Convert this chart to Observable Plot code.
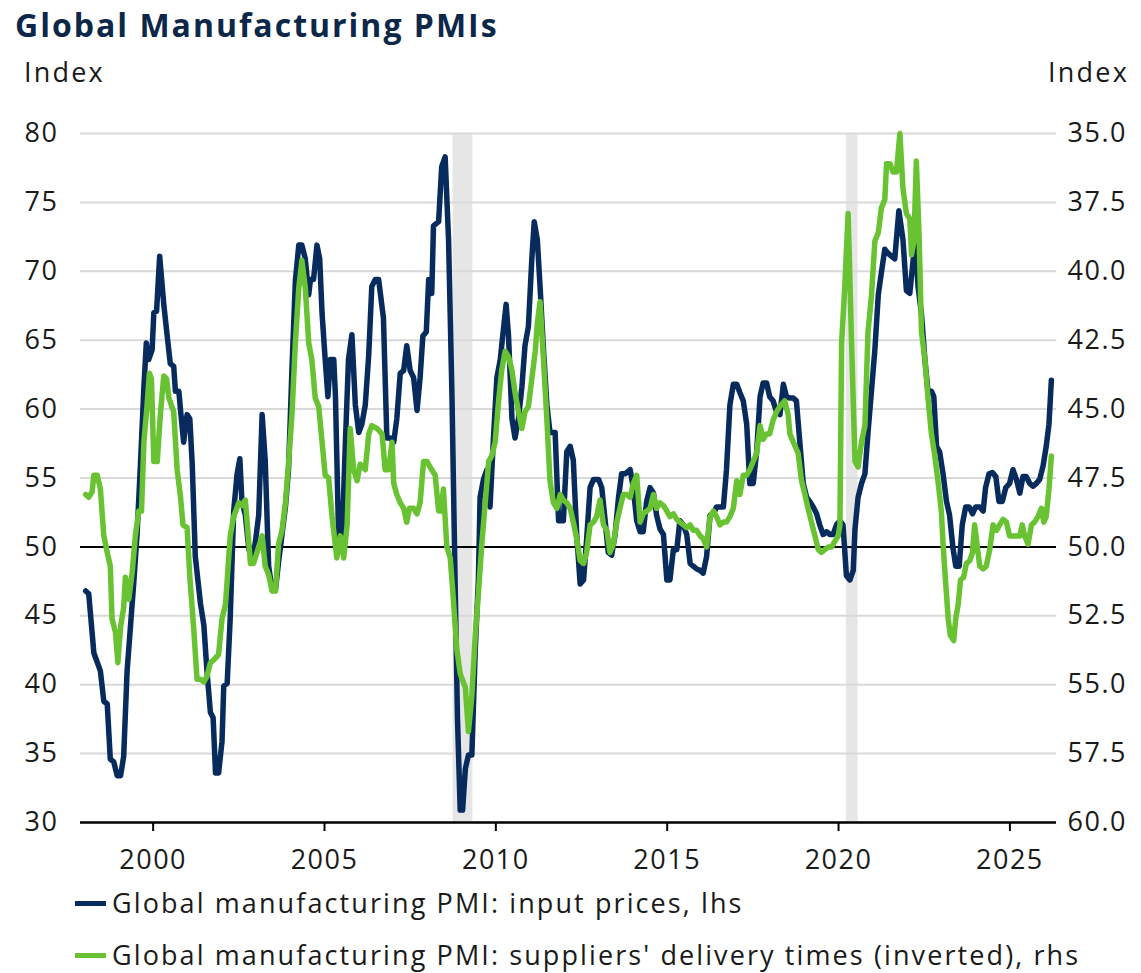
<!DOCTYPE html>
<html>
<head>
<meta charset="utf-8">
<script src="https://cdn.jsdelivr.net/npm/d3@7"></script>
<script src="https://cdn.jsdelivr.net/npm/@observablehq/plot@0.6"></script>
<style>
  html, body { margin: 0; padding: 0; background: #fff; }
  body { width: 1141px; height: 973px; position: relative; overflow: hidden; font-family: "Open Sans", sans-serif; color: #1a1a1a; }
  .abs { position: absolute; white-space: nowrap; line-height: 1; }
  #title { left: 15px; top: 9px; font-size: 32px; font-weight: 700; color: #0c2748; line-height: 32px; letter-spacing: 2px; }
  .unit { font-size: 27px; line-height: 28px; top: 58px; letter-spacing: 2.2px; }
  #unitL { left: 24px; }
  #unitR { right: 12px; }
  #chart { position: absolute; left: 0; top: 0; }
  .leg { left: 75px; font-size: 27px; line-height: 28px; display: flex; align-items: center; letter-spacing: 2.1px; }
  .sw { display: inline-block; width: 31px; height: 5px; margin-right: 6px; }
  #chart svg text { letter-spacing: 1.5px; }
</style>
</head>
<body>
<div id="chart"></div>
<div id="title" class="abs">Global Manufacturing PMIs</div>
<div id="unitL" class="abs unit">Index</div>
<div id="unitR" class="abs unit">Index</div>
<div id="leg1" class="abs leg" style="top:889px"><span class="sw" style="background:#062b5c"></span>Global manufacturing PMI: input prices, lhs</div>
<div id="leg2" class="abs leg" style="top:941px"><span class="sw" style="background:#68c232"></span>Global manufacturing PMI: suppliers' delivery times (inverted), rhs</div>
<script>
// Global manufacturing PMI: input prices (lhs), [decimal year, index]
const inputPrices = [[1998.03,46.8],[1998.12,46.6],[1998.27,42.3],[1998.46,41.0],[1998.56,38.8],[1998.66,38.6],[1998.75,34.6],[1998.85,34.4],[1998.95,33.4],[1999.05,33.4],[1999.14,34.8],[1999.24,41.0],[1999.34,44.3],[1999.44,47.6],[1999.53,50.9],[1999.63,56.0],[1999.73,61.6],[1999.80,64.8],[1999.87,63.6],[1999.97,64.3],[2000.02,67.0],[2000.10,67.1],[2000.19,71.1],[2000.31,67.6],[2000.41,65.3],[2000.50,63.3],[2000.60,63.1],[2000.65,61.3],[2000.75,61.3],[2000.80,59.9],[2000.89,57.6],[2000.99,59.6],[2001.07,59.3],[2001.14,56.0],[2001.23,49.3],[2001.38,45.9],[2001.48,44.3],[2001.57,41.0],[2001.67,38.0],[2001.75,37.6],[2001.82,33.6],[2001.91,33.6],[2002.01,35.9],[2002.06,39.9],[2002.16,40.1],[2002.25,44.9],[2002.35,52.6],[2002.45,55.3],[2002.53,56.4],[2002.59,53.3],[2002.69,52.3],[2002.79,49.9],[2002.89,48.9],[2002.98,50.3],[2003.08,52.3],[2003.18,59.6],[2003.27,56.3],[2003.37,48.6],[2003.47,46.9],[2003.57,46.9],[2003.66,48.9],[2003.76,50.9],[2003.86,52.9],[2003.95,55.6],[2004.05,62.9],[2004.15,69.3],[2004.25,71.9],[2004.34,71.9],[2004.44,70.9],[2004.54,68.3],[2004.59,69.4],[2004.68,69.4],[2004.78,71.9],[2004.86,70.9],[2004.93,66.9],[2005.02,63.6],[2005.10,60.9],[2005.17,63.6],[2005.27,63.6],[2005.32,60.9],[2005.41,50.9],[2005.51,50.3],[2005.61,57.6],[2005.70,63.6],[2005.80,65.4],[2005.90,60.3],[2006.00,58.3],[2006.09,58.9],[2006.19,60.3],[2006.29,63.9],[2006.38,68.9],[2006.48,69.4],[2006.58,69.4],[2006.72,66.6],[2006.82,57.9],[2006.92,57.9],[2007.02,57.6],[2007.11,59.3],[2007.21,62.6],[2007.31,62.8],[2007.40,64.6],[2007.50,62.8],[2007.60,62.3],[2007.70,59.9],[2007.79,62.3],[2007.87,65.3],[2007.97,65.6],[2008.04,69.4],[2008.13,68.4],[2008.18,73.3],[2008.33,73.6],[2008.42,77.6],[2008.52,78.3],[2008.62,72.3],[2008.72,60.9],[2008.81,47.6],[2008.88,37.6],[2008.96,30.9],[2009.03,30.9],[2009.11,33.9],[2009.20,34.9],[2009.30,34.9],[2009.40,42.6],[2009.49,47.6],[2009.54,53.6],[2009.64,54.9],[2009.74,55.6],[2009.83,52.9],[2009.93,57.9],[2010.03,62.3],[2010.13,63.6],[2010.20,65.3],[2010.30,67.6],[2010.37,65.3],[2010.47,59.3],[2010.56,57.9],[2010.66,59.3],[2010.76,61.6],[2010.85,64.6],[2010.95,66.0],[2011.05,70.9],[2011.12,73.6],[2011.21,72.3],[2011.29,68.9],[2011.39,64.3],[2011.49,60.3],[2011.58,58.3],[2011.73,58.3],[2011.83,51.9],[2011.97,51.9],[2012.07,56.9],[2012.17,57.3],[2012.26,56.3],[2012.36,50.9],[2012.46,47.3],[2012.56,47.6],[2012.65,50.6],[2012.75,54.3],[2012.85,54.9],[2013.00,54.9],[2013.09,54.3],[2013.19,51.9],[2013.28,49.6],[2013.38,49.4],[2013.48,50.9],[2013.58,53.6],[2013.67,55.3],[2013.77,55.3],[2013.92,55.6],[2014.01,54.3],[2014.11,51.9],[2014.21,51.1],[2014.30,51.1],[2014.40,53.3],[2014.50,54.3],[2014.60,53.9],[2014.69,52.3],[2014.79,51.3],[2014.89,50.9],[2014.99,47.6],[2015.08,47.6],[2015.18,49.8],[2015.28,49.8],[2015.37,51.9],[2015.47,51.6],[2015.57,50.9],[2015.67,48.8],[2015.76,48.6],[2015.86,48.4],[2015.96,48.3],[2016.05,48.1],[2016.15,49.3],[2016.25,52.3],[2016.35,52.4],[2016.44,52.9],[2016.54,52.9],[2016.64,52.9],[2016.73,55.6],[2016.83,60.3],[2016.93,61.8],[2017.03,61.8],[2017.12,61.2],[2017.22,60.6],[2017.32,58.9],[2017.41,54.6],[2017.51,54.6],[2017.61,56.9],[2017.71,60.9],[2017.80,61.9],[2017.90,61.9],[2017.99,60.9],[2018.09,60.6],[2018.19,59.8],[2018.29,59.6],[2018.39,61.8],[2018.48,60.9],[2018.58,60.8],[2018.68,60.8],[2018.77,60.6],[2018.87,57.6],[2018.97,54.6],[2019.07,53.6],[2019.16,53.3],[2019.26,52.9],[2019.36,52.4],[2019.45,51.6],[2019.55,50.9],[2019.65,51.1],[2019.75,50.9],[2019.84,50.9],[2019.94,51.6],[2020.04,51.9],[2020.13,51.6],[2020.23,47.9],[2020.33,47.6],[2020.43,48.3],[2020.48,51.3],[2020.57,53.6],[2020.67,54.6],[2020.77,55.3],[2020.86,58.3],[2020.96,61.3],[2021.06,64.3],[2021.16,68.3],[2021.25,69.9],[2021.35,71.6],[2021.45,71.3],[2021.54,71.1],[2021.64,70.9],[2021.76,74.4],[2021.88,72.3],[2021.98,68.6],[2022.08,68.4],[2022.18,70.9],[2022.25,71.9],[2022.32,68.9],[2022.42,66.9],[2022.52,63.6],[2022.61,61.3],[2022.71,61.3],[2022.78,60.9],[2022.86,57.3],[2022.95,56.9],[2023.05,55.3],[2023.15,53.3],[2023.24,52.3],[2023.34,49.9],[2023.42,48.6],[2023.52,48.6],[2023.61,51.6],[2023.71,52.9],[2023.81,52.9],[2023.91,52.4],[2024.00,52.9],[2024.12,52.9],[2024.22,52.6],[2024.29,54.3],[2024.39,55.3],[2024.49,55.4],[2024.59,55.1],[2024.68,53.3],[2024.78,53.3],[2024.88,54.3],[2024.99,54.6],[2025.09,55.6],[2025.19,54.9],[2025.29,53.9],[2025.38,55.1],[2025.48,55.1],[2025.58,54.6],[2025.67,54.4],[2025.77,54.6],[2025.87,54.9],[2025.97,55.9],[2026.06,57.3],[2026.14,58.9],[2026.21,62.1]];

// Global manufacturing PMI: suppliers' delivery times (rhs, axis inverted), [decimal year, index]
const deliveryTimes = [[1998.03,48.1],[1998.12,48.2],[1998.22,48.0],[1998.27,47.4],[1998.37,47.4],[1998.46,47.9],[1998.56,49.6],[1998.66,50.2],[1998.75,50.7],[1998.80,52.6],[1998.90,53.1],[1998.97,54.2],[1999.05,52.9],[1999.14,52.2],[1999.19,51.1],[1999.29,51.9],[1999.39,50.9],[1999.48,49.6],[1999.58,48.7],[1999.66,48.7],[1999.73,46.2],[1999.82,44.9],[1999.89,43.7],[1999.95,43.9],[2000.02,46.9],[2000.12,46.9],[2000.21,45.2],[2000.31,43.8],[2000.39,43.9],[2000.46,44.6],[2000.60,45.1],[2000.70,47.2],[2000.80,48.2],[2000.87,49.2],[2000.99,49.3],[2001.07,51.1],[2001.18,52.9],[2001.28,54.8],[2001.38,54.8],[2001.48,54.9],[2001.57,54.7],[2001.67,54.2],[2001.77,54.1],[2001.91,53.9],[2002.01,52.6],[2002.11,52.1],[2002.25,49.6],[2002.35,48.9],[2002.50,48.4],[2002.59,48.5],[2002.69,48.3],[2002.84,50.6],[2002.93,50.6],[2003.03,50.2],[2003.18,49.6],[2003.27,50.7],[2003.37,51.0],[2003.47,51.6],[2003.57,51.6],[2003.66,49.9],[2003.76,49.4],[2003.86,48.4],[2003.95,47.0],[2004.05,45.2],[2004.15,42.6],[2004.25,40.6],[2004.34,39.6],[2004.44,40.6],[2004.54,42.6],[2004.63,43.2],[2004.73,44.6],[2004.83,44.9],[2004.93,46.2],[2005.02,47.4],[2005.12,47.5],[2005.22,48.9],[2005.36,50.4],[2005.46,49.6],[2005.56,50.4],[2005.66,49.2],[2005.75,45.7],[2005.85,47.2],[2005.95,47.6],[2006.04,47.0],[2006.19,47.2],[2006.29,45.9],[2006.38,45.6],[2006.53,45.7],[2006.68,45.9],[2006.77,47.2],[2006.87,47.2],[2006.97,46.2],[2007.02,47.7],[2007.11,48.1],[2007.21,48.4],[2007.31,48.6],[2007.40,49.1],[2007.48,48.6],[2007.60,48.6],[2007.70,48.8],[2007.79,48.4],[2007.89,46.9],[2007.99,46.9],[2008.08,47.1],[2008.23,47.4],[2008.33,48.7],[2008.40,48.7],[2008.47,47.9],[2008.57,50.0],[2008.67,50.4],[2008.76,51.9],[2008.86,53.7],[2008.96,54.6],[2009.11,55.1],[2009.20,56.7],[2009.30,55.4],[2009.40,53.2],[2009.49,51.7],[2009.59,49.9],[2009.69,48.4],[2009.79,46.9],[2009.88,46.7],[2009.98,46.2],[2010.08,44.7],[2010.17,43.6],[2010.27,42.9],[2010.37,43.1],[2010.47,43.6],[2010.56,44.4],[2010.66,45.1],[2010.76,45.7],[2010.85,45.1],[2010.95,44.9],[2011.05,43.9],[2011.15,42.9],[2011.21,41.9],[2011.29,41.1],[2011.39,43.2],[2011.49,45.4],[2011.58,47.6],[2011.68,48.4],[2011.78,48.6],[2011.88,48.1],[2011.97,48.3],[2012.07,48.4],[2012.17,48.6],[2012.26,49.1],[2012.36,49.7],[2012.46,50.5],[2012.56,50.6],[2012.65,50.2],[2012.75,49.2],[2012.85,49.1],[2012.94,48.9],[2013.04,48.3],[2013.14,49.2],[2013.24,49.4],[2013.33,50.2],[2013.43,49.9],[2013.53,49.1],[2013.62,48.6],[2013.72,48.1],[2013.82,48.1],[2013.92,48.2],[2014.01,47.7],[2014.11,47.4],[2014.21,49.1],[2014.30,48.8],[2014.40,48.7],[2014.50,48.6],[2014.60,48.1],[2014.69,48.6],[2014.79,48.4],[2014.89,48.5],[2014.99,48.7],[2015.08,48.9],[2015.18,48.8],[2015.28,49.0],[2015.37,49.1],[2015.47,49.2],[2015.57,49.3],[2015.67,49.2],[2015.76,49.4],[2015.86,49.4],[2015.96,49.6],[2016.05,49.7],[2016.15,50.0],[2016.25,48.9],[2016.35,48.7],[2016.44,48.9],[2016.54,49.2],[2016.64,49.1],[2016.73,49.1],[2016.83,48.9],[2016.93,48.6],[2017.03,47.6],[2017.12,48.1],[2017.22,47.4],[2017.32,47.4],[2017.41,47.2],[2017.51,46.9],[2017.61,46.6],[2017.71,45.6],[2017.80,46.1],[2017.90,45.9],[2017.99,45.9],[2018.09,45.4],[2018.19,45.1],[2018.29,44.9],[2018.43,44.7],[2018.53,45.2],[2018.58,45.9],[2018.68,46.2],[2018.82,46.6],[2018.92,47.6],[2019.02,48.1],[2019.11,48.6],[2019.21,49.1],[2019.31,49.6],[2019.41,50.1],[2019.50,50.2],[2019.60,50.1],[2019.70,50.0],[2019.80,50.0],[2019.89,49.8],[2019.99,49.6],[2020.04,49.2],[2020.09,42.6],[2020.18,40.6],[2020.28,37.9],[2020.38,42.6],[2020.48,46.9],[2020.57,47.1],[2020.67,46.2],[2020.77,45.6],[2020.86,42.2],[2020.96,40.9],[2021.06,38.9],[2021.16,38.6],[2021.25,37.7],[2021.35,37.4],[2021.40,36.1],[2021.50,36.1],[2021.59,36.4],[2021.69,36.4],[2021.79,35.0],[2021.88,37.0],[2021.98,37.9],[2022.08,38.1],[2022.13,39.4],[2022.20,38.9],[2022.27,36.0],[2022.35,38.7],[2022.42,42.2],[2022.52,43.2],[2022.61,44.6],[2022.71,45.9],[2022.81,46.7],[2022.90,47.6],[2023.00,48.7],[2023.05,49.9],[2023.12,51.2],[2023.20,52.6],[2023.26,53.2],[2023.36,53.4],[2023.42,52.6],[2023.49,52.1],[2023.56,51.2],[2023.65,51.1],[2023.73,50.6],[2023.83,50.5],[2023.91,50.2],[2023.97,49.2],[2024.02,49.7],[2024.12,50.7],[2024.22,50.8],[2024.31,50.7],[2024.41,50.1],[2024.51,49.2],[2024.61,49.4],[2024.70,49.2],[2024.80,49.0],[2024.90,49.1],[2024.99,49.6],[2025.09,49.6],[2025.19,49.6],[2025.29,49.6],[2025.36,49.2],[2025.43,49.6],[2025.53,49.9],[2025.63,49.2],[2025.72,49.1],[2025.82,48.9],[2025.92,48.6],[2025.99,49.1],[2026.06,48.9],[2026.14,47.9],[2026.21,46.7]];

// Shaded periods [start, end] in decimal years
const shadedPeriods = [[2008.75, 2009.33], [2020.23, 2020.57]];

// Axis ticks
const lhsTicks = [30, 35, 40, 45, 50, 55, 60, 65, 70, 75, 80];
const gridTicks = [35, 40, 45, 55, 60, 65, 70, 75, 80];
const yearTicks = [2000, 2005, 2010, 2015, 2020, 2025];
const xDomain = [1997.88, 2026.36];

// rhs (inverted, 35 at top / 60 at bottom) mapped onto the lhs scale (80 top / 30 bottom)
const rhsToLhs = v => 150 - 2 * v;
const lhsToRhs = v => 75 - v / 2;

const navy = "#062b5c";
const green = "#68c232";

const chart = Plot.plot({
  width: 1141,
  height: 880,
  marginTop: 133,
  marginBottom: 58,
  marginLeft: 80,
  marginRight: 85,
  x: { domain: xDomain },
  y: { domain: [30, 80] },
  style: { fontFamily: "'Open Sans', sans-serif", fontSize: "27px", color: "#1a1a1a", background: "transparent", overflow: "visible" },
  marks: [
    Plot.rect(shadedPeriods, { x1: d => d[0], x2: d => d[1], y1: 30, y2: 80, fill: "#e6e6e6" }),
    Plot.ruleY(gridTicks, { stroke: "#d9d9d9", strokeWidth: 2 }),
    Plot.ruleY([50], { stroke: "#000", strokeWidth: 2 }),
    Plot.ruleY([30], { stroke: "#000", strokeWidth: 2.5 }),
    Plot.axisX({ ticks: yearTicks, tickFormat: d => String(d), tickSize: 9, tickPadding: 18, label: null, stroke: "#000", strokeWidth: 2 }),
    Plot.axisY({ anchor: "left", ticks: lhsTicks, tickSize: 0, tickPadding: 22, label: null, tickFormat: d => String(d) }),
    Plot.axisY({ anchor: "right", ticks: lhsTicks, tickSize: 0, tickPadding: 11, label: null, tickFormat: d => lhsToRhs(d).toFixed(1) }),
    Plot.line(inputPrices, { x: d => d[0], y: d => d[1], stroke: navy, strokeWidth: 5.5, strokeLinejoin: "round" }),
    Plot.line(deliveryTimes, { x: d => d[0], y: d => rhsToLhs(d[1]), stroke: green, strokeWidth: 5.5, strokeLinejoin: "round" })
  ]
});
document.getElementById("chart").appendChild(chart);
</script>
</body>
</html>
